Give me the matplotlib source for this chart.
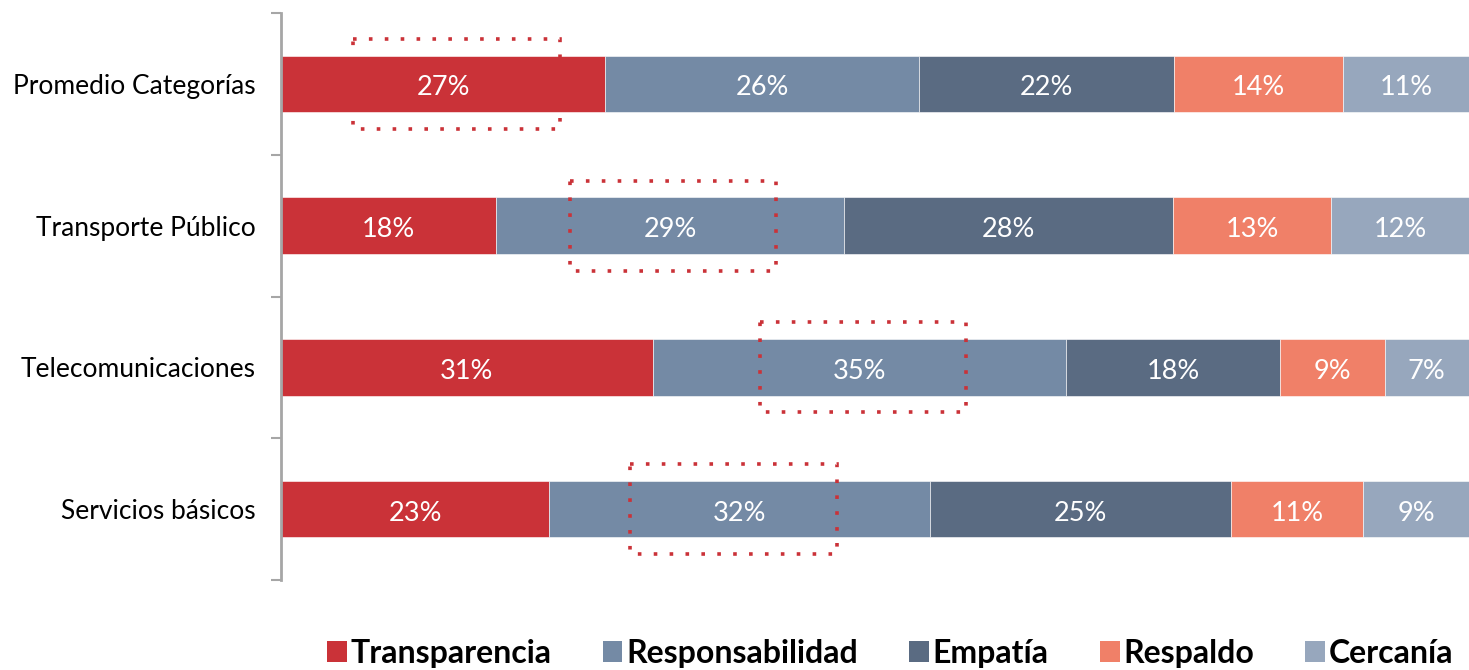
import matplotlib
matplotlib.use("Agg")
import matplotlib.pyplot as plt
from matplotlib.patches import Patch, Rectangle

plt.rcParams['font.family'] = ['Lato', 'DejaVu Sans']

categories = ['Promedio Categorías', 'Transporte Público', 'Telecomunicaciones', 'Servicios básicos']
series_names = ['Transparencia', 'Responsabilidad', 'Empatía', 'Respaldo', 'Cercanía']

transparencia = [27.3, 18.1, 31.3, 22.6]
responsabilidad = [26.4, 29.3, 34.8, 32.0]
empatia = [21.5, 27.7, 18.0, 25.4]
respaldo = [14.2, 13.3, 8.8, 11.1]
cercania = [10.6, 11.6, 7.1, 8.9]

colors = ['#CA3238', '#748AA5', '#5A6B82', '#F08068', '#97A7BD']

# highlighted segment per row (dotted box), as (x start, x end) in %
highlights = [(6.1, 23.5), (24.3, 41.7), (40.3, 57.7), (29.4, 46.8)]

fig = plt.figure(figsize=(14.69, 6.70), dpi=100)
ax = fig.add_axes([281 / 1469, 1 - 580 / 670, 1 - 281 / 1469, 567 / 670])

y = list(range(len(categories)))
left = [0] * len(categories)
for name, vals, col in zip(series_names,
                           [transparencia, responsabilidad, empatia, respaldo, cercania],
                           colors):
    bars = ax.barh(y, vals, left=left, height=0.40, color=col,
                   edgecolor='white', linewidth=0.4, label=name)
    for b, v in zip(bars, vals):
        ax.text(b.get_x() + b.get_width() / 2, b.get_y() + b.get_height() / 2 + 0.01,
                f"{round(v)}%", ha='center', va='center_baseline', color='white',
                fontsize=19.5)
    left = [l + v for l, v in zip(left, vals)]

for yi, (x0, x1) in zip(y, highlights):
    ax.add_patch(Rectangle((x0, yi - 0.317), x1 - x0, 0.634, fill=False,
                           edgecolor='#CA3238', linewidth=2.6,
                           linestyle=(0, (1, 3.4)), zorder=5, clip_on=False))

ax.set_xlim(0, 100)
ax.set_ylim(3.5, -0.5)
ax.set_yticks(y)
ax.set_yticklabels(categories, fontsize=19)
ax.set_yticks([-0.5, 0.5, 1.5, 2.5, 3.5], minor=True)
ax.tick_params(axis='y', which='major', length=0, pad=18)
ax.tick_params(axis='y', which='minor', length=7, width=1.5, color='#A6A6A6')
ax.set_xticks([])
for s in ['top', 'right', 'bottom']:
    ax.spines[s].set_visible(False)
ax.spines['left'].set_color('#A6A6A6')
ax.spines['left'].set_linewidth(2)

handles = [Patch(facecolor=c, edgecolor='none') for c in colors]
fig.legend(handles, series_names, loc='lower center', ncol=5,
           bbox_to_anchor=(0.606, -0.04), frameon=False,
           prop={'size': 23, 'weight': 'bold'},
           handlelength=0.62, handleheight=0.62, handletextpad=0.12,
           columnspacing=1.6)

fig.savefig('out.png', dpi=100)
